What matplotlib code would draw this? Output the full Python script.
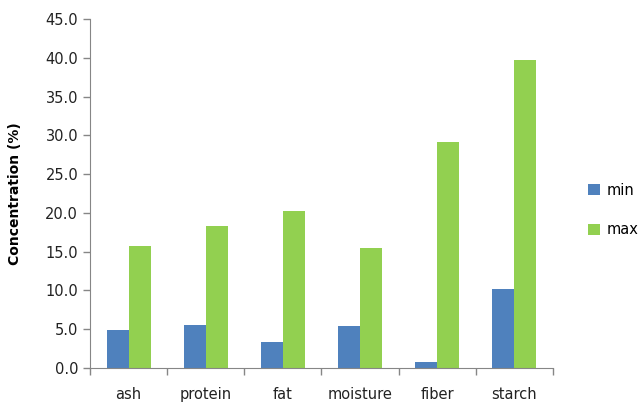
import matplotlib.pyplot as plt
import numpy as np

categories = ['ash', 'protein', 'fat', 'moisture', 'fiber', 'starch']
min_vals = [4.9, 5.6, 3.4, 5.4, 0.8, 10.2]
max_vals = [15.7, 18.3, 20.3, 15.5, 29.1, 39.7]

plt.rcParams['font.family'] = 'DejaVu Sans'
plt.rcParams['font.size'] = 10

fig = plt.figure(figsize=(6.41, 4.07), dpi=100)
ax = fig.add_axes([0.1404, 0.0958, 0.7223, 0.8575])

x = np.arange(len(categories))
w = 0.285
ax.bar(x - w / 2, min_vals, w, color='#4f81bd', label='min')
ax.bar(x + w / 2, max_vals, w, color='#92d050', label='max')

ax.set_xlim(-0.5, len(categories) - 0.5)
ax.set_ylim(0, 45)
ax.set_yticks(np.arange(0, 45.1, 5))
ax.set_yticklabels(['%.1f' % v for v in np.arange(0, 45.1, 5)])

# category labels centred, tick marks on the boundaries
ax.set_xticks(x)
ax.set_xticklabels(categories)
ax.set_xticks(np.arange(-0.5, len(categories), 1), minor=True)
ax.tick_params(axis='x', which='major', length=0, pad=14)
ax.tick_params(axis='x', which='minor', length=5, color='#868686', width=1)
ax.tick_params(axis='y', length=5, color='#868686', width=1)
ax.tick_params(labelcolor='#222222', labelsize=10.5)

for s in ['top', 'right']:
    ax.spines[s].set_visible(False)
for s in ['left', 'bottom']:
    ax.spines[s].set_color('#868686')

ax.set_ylabel('Concentration (%)', fontweight='bold', fontsize=10, labelpad=17)

ax.legend(loc='center left', bbox_to_anchor=(1.047, 0.453), frameon=False,
          handlelength=0.8, handleheight=0.8, handletextpad=0.5,
          labelspacing=1.7, fontsize=10.5)

plt.savefig('out.png', dpi=100)
